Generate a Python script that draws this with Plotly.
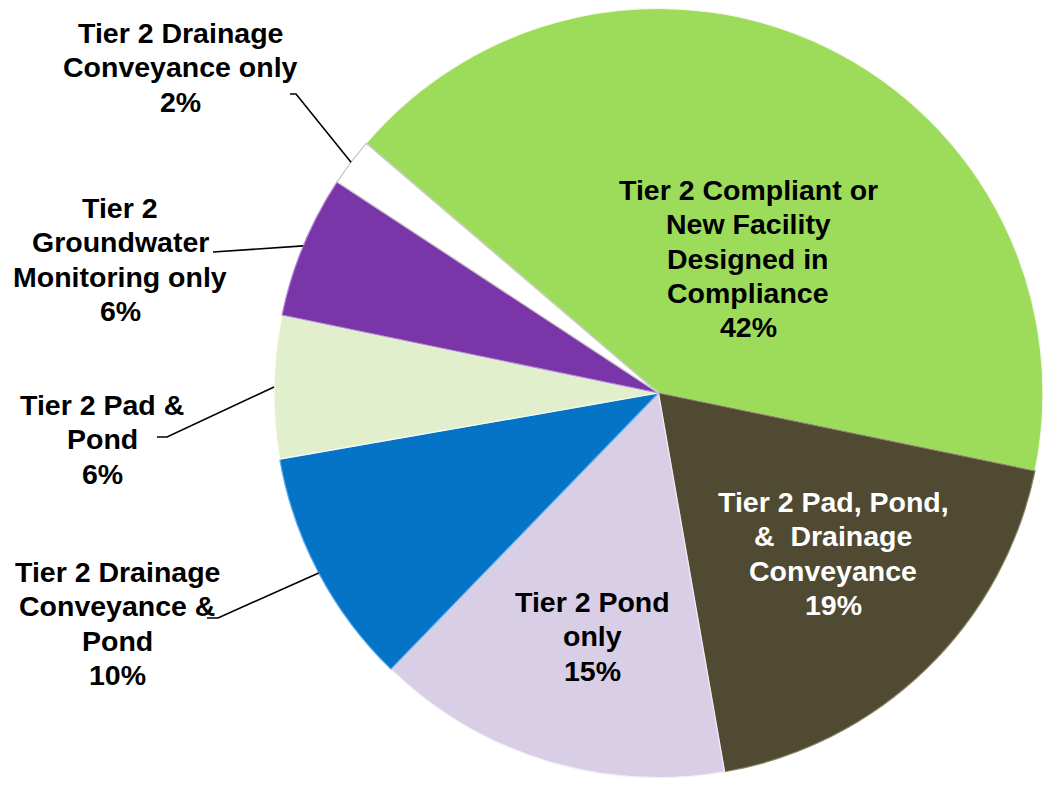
import math
import plotly.graph_objects as go

# ---------------- data ----------------
categories = [
    "Tier 2 Compliant or New Facility Designed in Compliance",
    "Tier 2 Pad, Pond, & Drainage Conveyance",
    "Tier 2 Pond only",
    "Tier 2 Drainage Conveyance & Pond",
    "Tier 2 Pad & Pond",
    "Tier 2 Groundwater Monitoring only",
    "Tier 2 Drainage Conveyance only",
]
label_lines = [
    ["Tier 2 Compliant or", "New Facility", "Designed in", "Compliance"],
    ["Tier 2 Pad, Pond,", "&\u00a0\u00a0Drainage", "Conveyance"],
    ["Tier 2 Pond", "only"],
    ["Tier 2 Drainage", "Conveyance &", "Pond"],
    ["Tier 2 Pad &", "Pond"],
    ["Tier 2", "Groundwater", "Monitoring only"],
    ["Tier 2 Drainage", "Conveyance only"],
]
values = [42, 19, 15, 10, 6, 6, 2]
colors = ["#9DDC5A", "#4F4A31", "#D8CEE6", "#0573C6", "#E2EFCD", "#7A36A8", "#FFFFFF"]
edge_colors = ["#F4F9EC", "#8A8466", "#F2EEF8", "#5AAFF0", "#FAFDF2", "#B58AD6", "#C4C4C4"]

# ---------------- layout constants ----------------
W, H = 1043, 785
CX, CY, R = 658.5, 393.0, 384.5
ROT = -49.5
FONT = "Liberation Sans, Arial, sans-serif"
FS = 28.5
LS = 34.3

# label placement: (center x px, first line y px, text color, leader points px or None)
label_pos = [
    (748, 190, "black", None),
    (833, 502, "white", None),
    (592, 602, "black", None),
    (117, 572, "black", [(207, 618), (218, 618)]),
    (102, 405, "black", [(157, 437), (167, 437)]),
    (120, 208, "black", [(213, 252)]),
    (180, 33, "black", [(290, 94), (296, 94)]),
]


def px(x):
    return x / W


def py(y):
    return 1 - y / H


fig = go.Figure(
    go.Pie(
        labels=categories,
        values=values,
        sort=False,
        direction="clockwise",
        rotation=ROT,
        marker=dict(colors=colors, line=dict(color=edge_colors, width=1.2)),
        textinfo="none",
        hoverinfo="label+percent",
        showlegend=False,
        domain=dict(x=[(CX - R) / W, (CX + R) / W],
                    y=[(H - CY - R - 3) / H, (H - CY + R + 3) / H]),
    )
)

total = sum(values)
annotations = []
shapes = []
cum = 0.0
for i, v in enumerate(values):
    mid = math.radians(ROT + (cum + v / 2) / total * 360)
    cum += v
    cxl, y0, col, leader = label_pos[i]
    pct = round(v / total * 100)
    lines = label_lines[i] + [f"{pct}%"]
    for k, t in enumerate(lines):
        annotations.append(dict(
            x=px(cxl), y=py(y0 + k * LS), xref="paper", yref="paper",
            text=t, showarrow=False, xanchor="center", yanchor="middle",
            font=dict(family=FONT, size=FS, color=col, weight="bold"),
        ))
    if leader:
        rim = (CX + R * math.sin(mid), CY - R * math.cos(mid))
        pts = leader + [rim]
        path = "M " + " L ".join(f"{px(a):.5f},{py(b):.5f}" for a, b in pts)
        shapes.append(dict(type="path", path=path, xref="paper", yref="paper",
                           line=dict(color="black", width=1.6)))

fig.update_layout(
    width=W, height=H,
    margin=dict(l=0, r=0, t=0, b=0),
    paper_bgcolor="white",
    plot_bgcolor="white",
    annotations=annotations,
    shapes=shapes,
)

fig.write_html("out.html", config={"displayModeBar": False},
               post_script="document.body.style.margin='0';")
